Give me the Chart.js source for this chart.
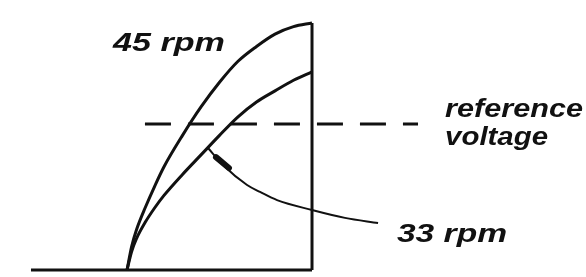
<!DOCTYPE html>
<html><head><meta charset="utf-8">
<script src="https://cdn.jsdelivr.net/npm/chart.js@4/dist/chart.umd.min.js"></script>
<style>html,body{margin:0;padding:0;background:#fff}#wrap{width:586px;height:277px;position:relative}</style>
</head><body><div id="wrap"><canvas id="c" width="586" height="277"></canvas></div>
<script>
// time (arbitrary units) vs voltage (arbitrary units)
const timeGrid = [0, 0.25, 0.5, 1, 1.5, 2, 3, 4, 5, 6, 7, 8, 9, 10];
const curve45Y = [0, 0.95, 1.6, 2.55, 3.4, 4.18, 5.45, 6.6, 7.6, 8.45, 9.05, 9.55, 9.85, 10];
const curve33Y = [0, 0.75, 1.25, 1.95, 2.52, 3.02, 3.87, 4.66, 5.45, 6.2, 6.8, 7.25, 7.68, 8.02];
const baseX = [-5.19, 10];
const baseY = [0, 0];
const stopX = [10, 10];
const stopY = [0, 10];
const refX = [0.97, 15.73];
const refY = [5.91, 5.91];
const arrowX = [4.38, 5.19, 6.49, 7.19, 8.11, 10, 11.78, 13.57];
const arrowY = [4.94, 4.25, 3.44, 3.16, 2.83, 2.43, 2.11, 1.90];
const headX = [4.81, 5.51];
const headY = [4.57, 4.13];
const labelTexts = ['45 rpm', 'reference', 'voltage', '33 rpm'];
const labelX = [-0.76, 17.19, 17.19, 14.59];
const labelY = [8.87, 6.19, 5.06, 1.13];
const labelW = [6.05, 7.46, 5.57, 5.95];

const pts = (xs, ys) => xs.map((x, i) => ({x, y: ys[i]}));
const INK = '#111';

const textPlugin = {
  id: 'texts',
  afterDatasetsDraw(chart) {
    const {ctx, scales: {x, y}} = chart;
    ctx.save();
    ctx.fillStyle = INK;
    ctx.font = 'italic bold 25px "Liberation Sans", Arial, sans-serif';
    ctx.textBaseline = 'alphabetic';
    labelTexts.forEach((t, i) => {
      const px = x.getPixelForValue(labelX[i]);
      const py = y.getPixelForValue(labelY[i]);
      const target = x.getPixelForValue(labelX[i] + labelW[i]) - px;
      const m = ctx.measureText(t).width;
      ctx.save();
      ctx.translate(px, py);
      ctx.scale(target / m, 1);
      ctx.fillText(t, 0, 0);
      ctx.restore();
    });
    ctx.restore();
  }
};

const ds = (data, extra) => Object.assign({
  data, borderColor: INK, borderWidth: 3, pointRadius: 0, fill: false,
  tension: 0, borderCapStyle: 'butt'
}, extra);

new Chart(document.getElementById('c'), {
  type: 'line',
  data: {
    datasets: [
      ds(pts(baseX, baseY), {label: 'base'}),
      ds(pts(stopX, stopY), {label: 'stop'}),
      ds(pts(timeGrid, curve45Y), {label: '45 rpm', cubicInterpolationMode: 'monotone'}),
      ds(pts(timeGrid, curve33Y), {label: '33 rpm', cubicInterpolationMode: 'monotone'}),
      ds(pts(refX, refY), {label: 'reference voltage', borderDash: [26, 17]}),
      ds(pts(arrowX, arrowY), {label: 'arrow', borderWidth: 2, cubicInterpolationMode: 'monotone'}),
      ds(pts(headX, headY), {label: 'arrowhead', borderWidth: 6, borderCapStyle: 'round'})
    ]
  },
  options: {
    responsive: false,
    animation: false,
    layout: {padding: 0},
    plugins: {legend: {display: false}, tooltip: {enabled: false}},
    scales: {
      x: {type: 'linear', display: false, min: -6.865, max: 24.81},
      y: {type: 'linear', display: false, min: -0.283, max: 10.93}
    }
  },
  plugins: [textPlugin]
});
</script>
</body></html>
